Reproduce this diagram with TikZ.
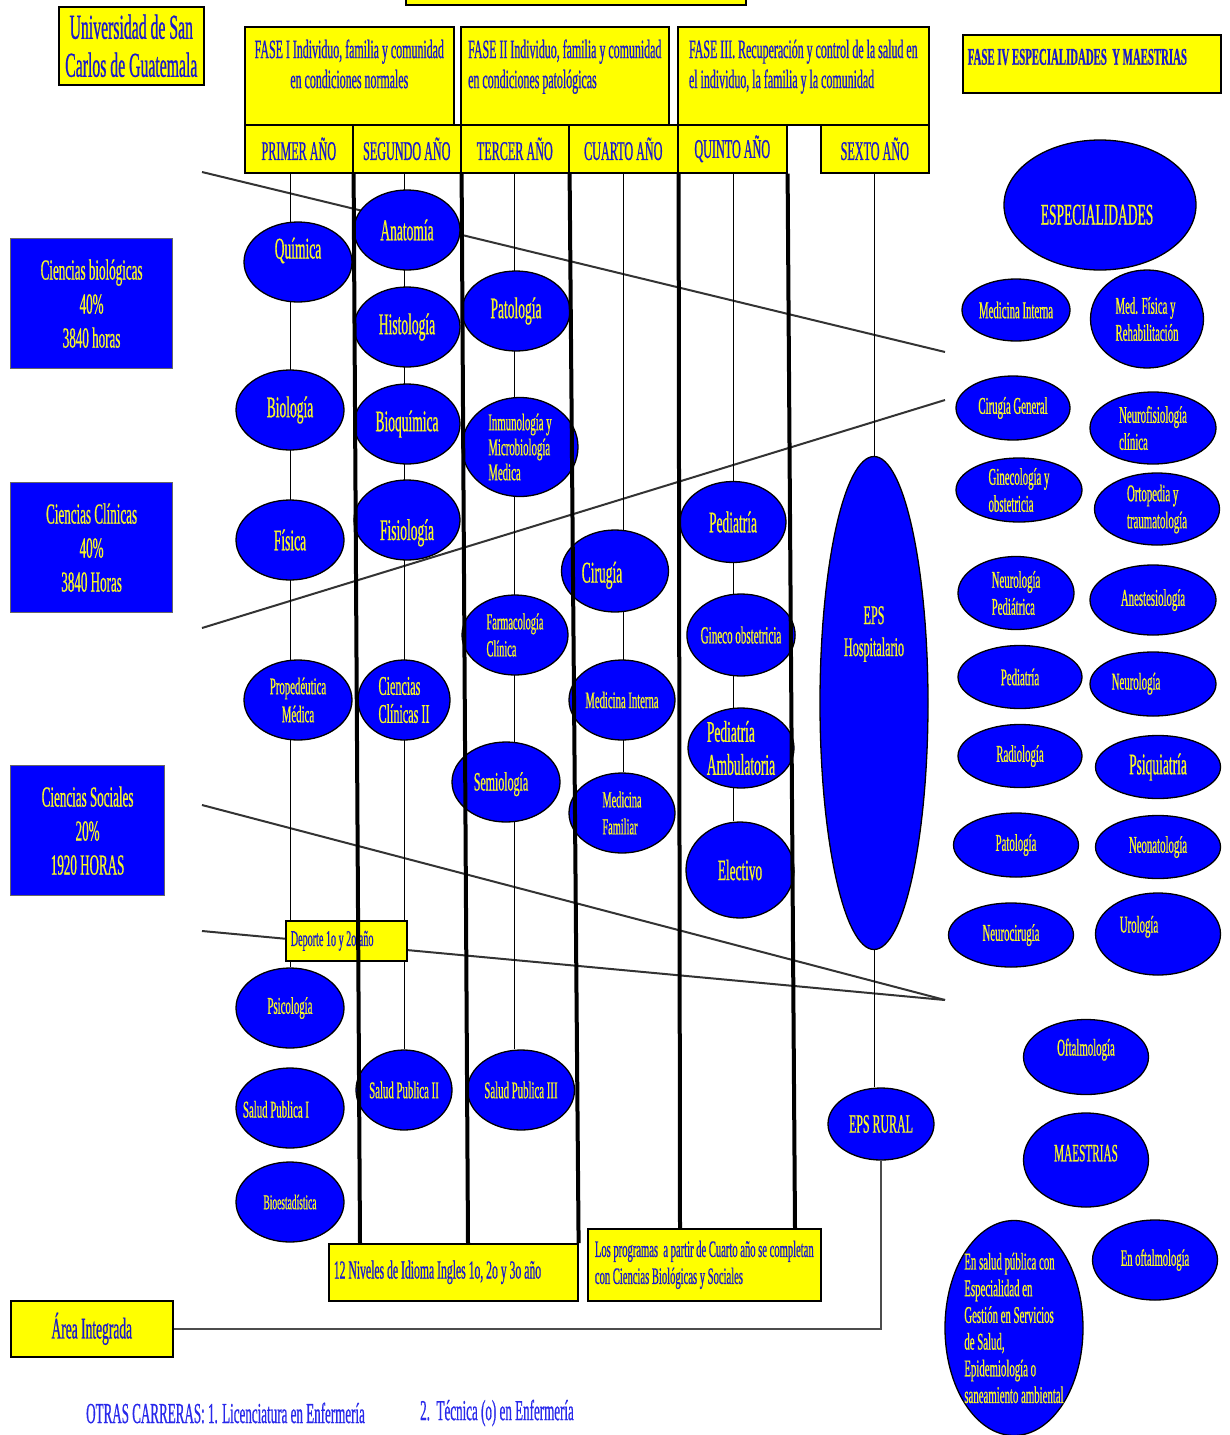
\documentclass[tikz,border=0pt]{standalone}
\usepackage{fontspec}
\setmainfont[FakeStretch=0.45,FakeBold=0.6]{Liberation Serif}
\usetikzlibrary{shapes.geometric}
\pgfdeclarelayer{bg}
\pgfsetlayers{bg,main}
\definecolor{tblue}{RGB}{25,25,205}
\definecolor{oblue}{RGB}{40,40,235}
\definecolor{bblue}{RGB}{0,0,255}
\definecolor{yel}{RGB}{255,255,0}
\definecolor{etxt}{RGB}{245,245,40}
\newcommand\fz[2]{\fontsize{#1}{#2}\selectfont}
% shifted text: #1 = twice the horizontal shift, #2 = raise of baseline, #3 = text
\newcommand\tsh[3]{\raisebox{#2}[0pt][0pt]{\makebox[0pt]{\hspace*{#1}#3}}}
\tikzset{
  ybox/.style={draw=black, line width=1.6pt, fill=yel, text=tblue, inner xsep=5pt, inner ysep=0pt, anchor=north west},
  bbox/.style={draw=black!60, line width=1.2pt, fill=bblue, text=etxt, inner sep=0pt, anchor=north west, align=center, font=\fz{29}{34}},
  ell/.style={ellipse, draw=black, line width=1.3pt, fill=bblue, text=etxt, inner sep=-2pt, align=center},
  sz/.style 2 args={minimum width=#1pt, minimum height=#2pt},
  bigt/.style={font=\fz{30}{33}},
  midt/.style={font=\fz{24}{27}},
  yeart/.style={font=\fz{27}{30}, align=center},
  thinln/.style={line width=1pt, black},
  thickln/.style={line width=4pt, black},
  slantln/.style={line width=2pt, black!80},
}
\begin{document}
\begin{tikzpicture}[x=1pt,y=-1pt]
\useasboundingbox (0,0) rectangle (1230,1435);

% ---------- header boxes ----------
\node[ybox, sz={340}{40}, anchor=south west] (topbox) at (405,6) {};
\node[ybox, sz={145}{78}, align=center, font=\fz{35}{38}] (univ) at (58,6) {Universidad de San\\Carlos de Guatemala};
\node[ybox, sz={209}{98}, align=center, font=\fz{26.5}{30}] (f1) at (244,26) {FASE I Individuo, familia y comunidad\\en condiciones normales\\[-6pt]\mbox{}};
\node[ybox, sz={208}{98}, align=left, font=\fz{26.5}{30}] (f2) at (460,26) {FASE II Individuo, familia y comunidad\\en condiciones patológicas\\[-6pt]\mbox{}};
\node[ybox, sz={251}{98}, align=left, font=\fz{26.5}{30}] (f3) at (677,26) {FASE III. Recuperación y control de la salud en\\el individuo, la familia y la comunidad\\[-6pt]\mbox{}};
\node[ybox, sz={258}{58}, text width=248pt, align=flush left, font=\bfseries\fz{24}{28}] (f4) at (962,34) {FASE IV ESPECIALIDADES\ \ Y MAESTRIAS\\[-14pt]\mbox{}};

\node[ybox, sz={108}{48}, yeart] (y1) at (244,124) {PRIMER AÑO};
\node[ybox, sz={108}{48}, yeart] (y2) at (352,124) {SEGUNDO AÑO};
\node[ybox, sz={108}{48}, yeart] (y3) at (460,124) {TERCER AÑO};
\node[ybox, sz={109}{48}, yeart] (y4) at (568,124) {CUARTO AÑO};
\node[ybox, sz={109}{48}, yeart] (y5) at (677,124) {QUINTO AÑO};
\node[ybox, sz={108}{48}, yeart] (y6) at (820,124) {SEXTO AÑO};

% ---------- left blue boxes ----------
\node[bbox, sz={162}{130}] (cb) at (10,238) {Ciencias biológicas\\40\%\\3840 horas};
\node[bbox, sz={162}{130}] (cc) at (10,482) {Ciencias Clínicas\\40\%\\3840 Horas};
\node[bbox, sz={154}{130}] (cs) at (10,765) {Ciencias Sociales\\20\%\\1920 HORAS};

% ---------- bottom boxes ----------
\node[ybox, sz={121}{40}, text width=111pt, align=flush left, font=\fz{22.5}{25}] (dep) at (285,920) {Deporte 1o y 2o año};
\node[ybox, sz={249}{57}, text width=239pt, align=flush left, font=\fz{26}{29}] (eng) at (328,1243) {12 Niveles de Idioma Ingles 1o, 2o y 3o año};
\node[ybox, sz={233}{72}, align=left, font=\fz{23.5}{27}] (prog) at (587,1228) {Los programas\ \ a partir de Cuarto año se completan\\con Ciencias Biológicas y Sociales};
\node[ybox, sz={162}{56}, align=center, font=\fz{30}{33}] (area) at (10,1300) {Área Integrada};

\node[anchor=west, text=oblue, font=\fz{29}{32}, inner sep=0pt] (otras) at (86,1413) {OTRAS CARRERAS: 1. Licenciatura en Enfermería};
\node[anchor=west, text=oblue, font=\fz{29}{32}, inner sep=0pt] (otras2) at (420,1413) {2.\ \ Técnica (o) en Enfermería};

% ---------- column 1 ----------
\node[ell, sz={108}{80}, bigt] (quim) at (298,262) {\tsh{0pt}{3.5pt}{Química}};
\node[ell, sz={108}{80}, bigt] (biol) at (290,410) {Biología};
\node[ell, sz={108}{80}, bigt] (fisi) at (290,540) {Física};
\node[ell, sz={108}{80}, font=\fz{24}{28}] (prop) at (298,700) {Propedéutica\\Médica};
\node[ell, sz={108}{80}, midt] (psic) at (290,1008) {Psicología};
\node[ell, sz={108}{80}, midt] (sp1) at (290,1108) {\tsh{-28pt}{-9.5pt}{Salud Publica I}};
\node[ell, sz={108}{80}, font=\fz{21}{24}] (bioe) at (290,1202) {Bioestadística};

% ---------- column 2 ----------
\node[ell, sz={106}{80}, bigt] (anat) at (407,230) {Anatomía};
\node[ell, sz={106}{80}, bigt] (hist) at (407,327) {Histología};
\node[ell, sz={106}{80}, bigt] (bioq) at (407,424) {Bioquímica};
\node[ell, sz={106}{80}, bigt] (fisio) at (407,520) {\tsh{0pt}{-20pt}{Fisiología}};
\node[ell, sz={92}{80}, align=left, font=\fz{27}{28}] (cc2) at (404,700) {Ciencias\\Clínicas II};
\node[ell, sz={96}{80}, midt] (sp2) at (404,1090) {Salud Publica II};

% ---------- column 3 ----------
\node[ell, sz={108}{80}, bigt] (pato) at (516,311) {Patología};
\node[ell, sz={116}{99}, align=left, font=\fz{24}{25}] (inmu) at (520,447) {Inmunología y\\Microbiología\\Medica};
\node[ell, sz={106}{80}, align=left, font=\fz{23}{27}] (farm) at (515,635) {Farmacología\\Clínica};
\node[ell, sz={108}{80}, font=\fz{26.5}{29}] (semi) at (506,782) {\tsh{-10pt}{-8.5pt}{Semiología}};
\node[ell, sz={107}{80}, midt] (sp3) at (521,1090) {Salud Publica III};

% ---------- column 4 ----------
\node[ell, sz={107}{82}, bigt] (ciru) at (615,571) {\tsh{-26pt}{-11.5pt}{Cirugía}};
\node[ell, sz={106}{80}, font=\fz{23.7}{26}] (medi) at (622,700) {Medicina Interna};
\node[ell, sz={106}{80}, align=left, font=\fz{23}{27}] (medf) at (622,813) {Medicina\\Familiar};

% ---------- column 5 ----------
\node[ell, sz={106}{81}, bigt] (pedi) at (733,522) {Pediatría};
\node[ell, sz={106}{82}, font=\fz{24.5}{27}] (gine) at (741,635) {Gineco obstetricia};
\node[ell, sz={106}{80}, align=left, inner sep=-6pt, font=\fz{30}{33}] (peda) at (741,748) {Pediatría\\Ambulatoria};
\node[ell, sz={108}{96}, font=\fz{29.5}{32}] (elec) at (740,870) {Electivo};

% ---------- column 6 ----------
\node[ell, sz={108}{493}] (epsh) at (874,703) {};
\node[text=etxt, align=center, font=\fz{27}{32}, inner sep=0pt] (epsht) at (874,634) {EPS\\Hospitalario};
\node[ell, sz={106}{72}, font=\fz{26.5}{29}] (epsr) at (881,1124) {EPS RURAL};

% ---------- right side ----------
\node[ell, sz={192}{130}, bigt] (espe) at (1100,205) {\tsh{-6pt}{-19.5pt}{ESPECIALIDADES}};
\node[ell, sz={108}{62}, midt] (rmi) at (1016,310) {Medicina Interna};
\node[ell, sz={113}{98}, align=left, midt] (rmf) at (1147,319) {Med. Física y\\Rehabilitación};
\node[ell, sz={114}{64}, midt] (rcg) at (1013,408) {Cirugía General};
\node[ell, sz={126}{72}, align=left, midt] (rnf) at (1153,428) {Neurofisiología\\clínica};
\node[ell, sz={126}{64}, align=left, inner sep=-4pt, midt] (rgo) at (1019,490) {Ginecología y\\obstetricia};
\node[ell, sz={125}{72}, align=left, midt] (rot) at (1157,509) {Ortopedia y\\traumatología};
\node[ell, sz={116}{73}, align=left, midt] (rnp) at (1016,593) {Neurología\\Pediátrica};
\node[ell, sz={126}{70}, midt] (ran) at (1153,600) {Anestesiología};
\node[ell, sz={124}{63}, midt] (rpe) at (1020,677) {Pediatría};
\node[ell, sz={126}{64}, midt] (rne) at (1153,684) {\tsh{-34pt}{-5.5pt}{Neurología}};
\node[ell, sz={124}{63}, midt] (rra) at (1020,756) {Radiología};
\node[ell, sz={125}{63}, bigt] (rps) at (1158,767) {Psiquiatría};
\node[ell, sz={125}{64}, midt] (rpa) at (1016,845) {Patología};
\node[ell, sz={125}{63}, midt] (rno) at (1158,847) {Neonatología};
\node[ell, sz={125}{64}, midt] (rnc) at (1011,935) {Neurocirugía};
\node[ell, sz={125}{82}, midt] (rur) at (1158,934) {\tsh{-38pt}{1.5pt}{Urología}};
\node[ell, sz={125}{75}, midt] (roft) at (1086,1057) {\tsh{0pt}{1.5pt}{Oftalmología}};
\node[ell, sz={125}{94}, font=\fz{25}{28}] (rmae) at (1086,1160) {\tsh{0pt}{-1.3pt}{MAESTRIAS}};
\node[ell, sz={138}{215}, align=left, inner sep=-4pt, font=\fz{24}{26.7}] (rsp) at (1014,1328) {En salud pública con\\Especialidad en\\Gestión en Servicios\\de Salud,\\Epidemiología o\\saneamiento ambiental};
\node[ell, sz={125}{80}, font=\fz{23.5}{26}] (reof) at (1155,1260) {En oftalmología};

% ---------- free ends ----------
\coordinate (l1a) at (202,172);
\coordinate (l1b) at (945,352);
\coordinate (l2a) at (202,628);
\coordinate (l2b) at (945,400);
\coordinate (l3a) at (202,805);
\coordinate (l3b) at (945,1000);
\coordinate (l4a) at (202,931);
\coordinate (b1) at (360,1243);
\coordinate (b2) at (468,1243);
\coordinate (b4) at (680,1228);
\coordinate (b5) at (795,1228);

% ---------- background lines ----------
\begin{pgfonlayer}{bg}
\fill[white] (0,0) rectangle (1230,1435);
\draw[slantln] (l1a) -- (l1b);
\draw[slantln] (l2a) -- (l2b);
\draw[slantln] (l3a) -- (l3b);
\draw[slantln] (l4a) -- (l3b);
% column 1
\draw[thinln] (biol |- y1.south) -- (biol |- dep.north);
\draw[thinln] (biol |- dep.south) -- (psic);
% column 2
\draw[thinln] (cc2 |- y2.south) -- (cc2 |- dep.north);
\draw[thinln] (cc2 |- dep.south) -- (sp2);
% column 3
\draw[thinln] (y3.south) -- (y3.south |- sp3.north);
% column 4
\draw[thinln] (y4.south) -- (y4.south |- medf.north);
% column 5
\draw[thinln] (pedi |- y5.south) -- (pedi |- elec.north);
% column 6
\draw[thinln] (y6.south) -- (y6.south |- epsr.north);
\draw[line width=1.6pt, black!70] (epsr) |- (area);
\end{pgfonlayer}

% ---------- thick column dividers ----------
\draw[thickln] (y1.south east) -- (b1);
\draw[thickln] (y2.south east) -- (b2);
\draw[thickln] (y3.south east) -- (eng.north east);
\draw[thickln] (y4.south east) -- (b4);
\draw[thickln] (y5.south east) -- (b5);
\end{tikzpicture}
\end{document}
